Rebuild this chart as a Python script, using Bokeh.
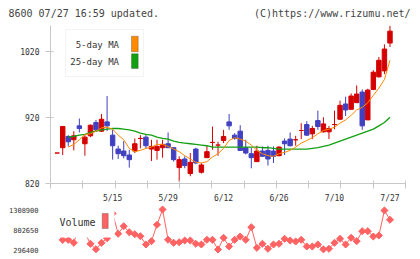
import numpy as np
from bokeh.plotting import figure
from bokeh.layouts import column
from bokeh.models import (Range1d, FixedTicker, Label, BoxAnnotation, ColumnDataSource,
                          LinearAxis)
from bokeh.embed import file_html
from bokeh.resources import INLINE

# Daily prices, 61 sessions ending 07/27
opens = [866, 874, 891, 886, 907, 880, 892, 912, 899, 913,
         893, 872, 869, 863, 869, 888, 890, 872, 870, 874,
         880, 874, 844, 857, 835, 872, 837, 859, 882, 878,
         885, 913, 893, 899, 874, 865, 853, 869, 870, 869,
         862, 884, 887, 886, 900, 909, 895, 915, 898, 898,
         909, 917, 940, 932, 942, 958, 916, 962, 981, 990,
         1032]
highs = [866, 907, 893, 899, 918, 893, 909, 916, 925, 952,
         901, 877, 884, 871, 888, 893, 893, 886, 886, 886,
         897, 875, 861, 861, 866, 874, 851, 878, 906, 883,
         901, 925, 896, 908, 886, 874, 877, 876, 877, 876,
         876, 888, 897, 892, 911, 914, 907, 930, 920, 907,
         930, 945, 951, 956, 968, 962, 963, 991, 1011, 1030,
         1058]
lows = [866, 863, 876, 870, 897, 862, 890, 898, 898, 899,
        856, 857, 858, 844, 866, 873, 872, 854, 856, 859,
        874, 853, 823, 843, 831, 849, 835, 859, 871, 862,
        881, 901, 886, 870, 864, 843, 853, 861, 847, 851,
        861, 863, 876, 877, 887, 892, 887, 901, 897, 887,
        902, 916, 922, 932, 942, 901, 916, 961, 980, 985,
        1026]
closes = [866, 906, 883, 892, 903, 890, 908, 901, 917, 907,
          877, 865, 862, 856, 880, 888, 877, 876, 876, 879,
          874, 856, 856, 847, 852, 851, 848, 868, 882, 878,
          891, 907, 888, 870, 866, 859, 869, 861, 857, 861,
          875, 880, 877, 886, 900, 893, 903, 906, 910, 903,
          909, 938, 931, 952, 955, 907, 961, 988, 1006, 1023,
          1050]

# Moving averages as plotted (lines begin at the third session)
ma5 = [None, None, 875, 879, 886, 894, 895, 899, 904, 905,
       902, 893, 886, 873, 868, 870, 873, 875, 879, 879,
       876, 872, 868, 862, 857, 852, 851, 853, 860, 865,
       873, 885, 889, 887, 884, 878, 870, 865, 862, 861,
       865, 867, 870, 875, 881, 885, 889, 895, 900, 902,
       905, 911, 916, 923, 931, 935, 942, 953, 964, 977,
       1006]
ma25 = [None, None, 890, 891, 893, 894, 897, 899, 901, 902,
        903, 903, 902, 901, 899, 896, 894, 893, 890, 888,
        887, 884, 882, 881, 880, 879, 878, 877, 875, 875,
        875, 875, 875, 875, 875, 875, 875, 874, 874, 873,
        872, 872, 872, 872, 872, 872, 873, 874, 876, 878,
        881, 884, 887, 890, 893, 896, 899, 902, 907, 912,
        920]

volume = [750000, 540000, 540000, 466000, 929000, 714000, 441000, 304000, 466000, 582000,
          1208000, 694000, 886000, 734000, 684000, 633000, 423000, 507000, 922000, 1308900,
          542000, 466000, 481000, 524000, 524000, 441000, 423000, 542000, 542000, 296400,
          593000, 372000, 542000, 625000, 542000, 861000, 339000, 441000, 314000, 423000,
          441000, 567000, 524000, 499000, 542000, 372000, 372000, 423000, 300000, 314000,
          466000, 567000, 423000, 593000, 507000, 760000, 760000, 625000, 651000, 1284000,
          1048000]

# Session index and text of the date labels under the price panel
date_label_idx = [10, 20, 30, 40, 50, 60]
date_labels = ["5/15", "5/29", "6/12", "6/26", "7/10", "7/27"]
price_ticks = [820, 920, 1020]

header_left = "8600 07/27 16:59 updated."
header_right = "(C)https://www.rizumu.net/"

FONT = "DejaVu Sans Mono"
RED = "#d40000"
BLUE = "#4040c0"
ORANGE = "#ff8a00"
GREEN = "#12a012"
VOLC = "#ff6262"
AXIS = "#c8c8c8"
TXT = "#333333"
W = 420
FRAME_L, FRAME_R = 50, 405          # price/volume frame edges in page pixels

n = len(closes)
idx = np.arange(n)
colors = [RED if c >= o else BLUE for o, c in zip(opens, closes)]
src = ColumnDataSource(dict(
    x=idx, high=highs, low=lows,
    top=[max(o, c) for o, c in zip(opens, closes)],
    bottom=[min(o, c) for o, c in zip(opens, closes)],
    color=colors,
))


def as_float(vals):
    return np.array([np.nan if v is None else v for v in vals], dtype=float)


def bare(fig):
    fig.outline_line_color = None
    fig.grid.visible = False
    fig.background_fill_color = "white"
    fig.border_fill_color = "white"


def screen_box(fig, left, right, bottom, top, **kw):
    fig.add_layout(BoxAnnotation(left=left, right=right, bottom=bottom, top=top,
                                 left_units="screen", right_units="screen",
                                 bottom_units="screen", top_units="screen",
                                 fill_alpha=1, **kw))


# ---- price panel ----
xr = Range1d(-1.2, n + 1.8)
p = figure(width=W, height=205, x_range=xr, y_range=Range1d(820, 1058.5),
           output_backend="svg", toolbar_location=None, title=None,
           min_border_left=FRAME_L, min_border_right=W - FRAME_R,
           min_border_top=25, min_border_bottom=21)
bare(p)

p.segment(x0="x", y0="low", x1="x", y1="high", line_color="color", line_width=1, source=src)
p.vbar(x="x", width=0.8, top="top", bottom="bottom", fill_color="color",
       line_color="color", line_width=1, source=src)
p.line(idx, as_float(ma25), line_color=GREEN, line_width=1.3)
p.line(idx, as_float(ma5), line_color=ORANGE, line_width=1)

# weekly-spaced tick marks as minor ticks; dates as major labels with no mark
span = xr.end - xr.start
p.xaxis.ticker = FixedTicker(ticks=date_label_idx,
                             minor_ticks=[xr.start + k * span / 11 for k in range(12)])
p.xaxis.major_label_overrides = {i: t for i, t in zip(date_label_idx, date_labels)}
p.xaxis.major_tick_in = 0
p.xaxis.major_tick_out = 0
p.xaxis.minor_tick_in = 3
p.xaxis.minor_tick_out = 5
p.xaxis.minor_tick_line_color = AXIS
p.xaxis.major_label_standoff = 5

p.yaxis.ticker = FixedTicker(ticks=price_ticks)
p.yaxis.major_label_standoff = 6
p.yaxis.major_tick_in = 3
p.yaxis.major_tick_out = 5
p.yaxis.minor_tick_line_color = None
for ax in (p.xaxis, p.yaxis):
    ax.axis_line_color = AXIS
    ax.major_tick_line_color = AXIS
    ax.major_label_text_font = FONT
    ax.major_label_text_font_size = "8px"
    ax.major_label_text_color = TXT

# header line: an axis on a page-pixel range above the frame
p.extra_x_ranges["page"] = Range1d(FRAME_L, FRAME_R)
char_w = 0.602 * 10
head_pos = [8 + len(header_left) * char_w / 2, 410 - len(header_right) * char_w / 2]
head = LinearAxis(x_range_name="page", ticker=FixedTicker(ticks=head_pos),
                  major_label_overrides={head_pos[0]: header_left, head_pos[1]: header_right})
head.axis_line_color = None
head.major_tick_line_color = None
head.minor_tick_line_color = None
head.major_tick_in = 0
head.major_tick_out = 0
head.major_label_standoff = 7
head.major_label_text_font = FONT
head.major_label_text_font_size = "10px"
head.major_label_text_color = "#444444"
p.add_layout(head, "above")

# legend for the moving averages
screen_box(p, 15, 93, 107, 154, fill_color="white", line_color="#d8d8d8", line_width=1)
for label, color, yc, y0, y1 in (("5-day MA", ORANGE, 139, 131.7, 147.3),
                                 ("25-day MA", GREEN, 122, 115, 129.7)):
    p.add_layout(Label(x=68.5, y=yc, x_units="screen", y_units="screen", text=label,
                       text_font=FONT, text_font_size="9px", text_color=TXT,
                       text_align="right", text_baseline="middle"))
    screen_box(p, 81, 87.7, y0, y1, fill_color=color, line_color="#333333", line_width=1)

# ---- volume panel ----
vmax, vmin = max(volume), min(volume)
vmid = (vmax + vmin) / 2
per_px = (vmax - vmin) / 40.0
v = figure(width=W, height=54, x_range=xr,
           y_range=Range1d(vmin - 6 * per_px, vmax + 4 * per_px),
           x_axis_type=None, output_backend="svg", toolbar_location=None, title=None,
           min_border_left=FRAME_L, min_border_right=W - FRAME_R,
           min_border_top=0, min_border_bottom=4)
bare(v)

v.line(idx, volume, line_color=VOLC, line_width=1)
v.scatter(idx, volume, marker="square", size=5, angle=np.pi / 4,
          fill_color=VOLC, line_color=VOLC)

v.yaxis.ticker = FixedTicker(ticks=[vmin, vmid, vmax])
v.yaxis.major_label_overrides = {t: str(int(t)) for t in (vmin, vmid, vmax)}
v.yaxis.major_label_standoff = 6
v.yaxis.axis_line_color = None
v.yaxis.major_tick_line_color = None
v.yaxis.minor_tick_line_color = None
v.yaxis.major_label_text_font = FONT
v.yaxis.major_label_text_font_size = "7px"
v.yaxis.major_label_text_color = TXT

screen_box(v, 0, 64, 18, 50, fill_color="white", line_color=None)
v.add_layout(Label(x=45, y=33, x_units="screen", y_units="screen", text="Volume",
                   text_font=FONT, text_font_size="10px", text_color=TXT,
                   text_align="right", text_baseline="middle"))
screen_box(v, 51.7, 57.7, 27, 42, fill_color=VOLC, line_color="#333333", line_width=1)

layout = column(p, v, spacing=0)
open("out.html", "w").write(file_html(layout, INLINE))
